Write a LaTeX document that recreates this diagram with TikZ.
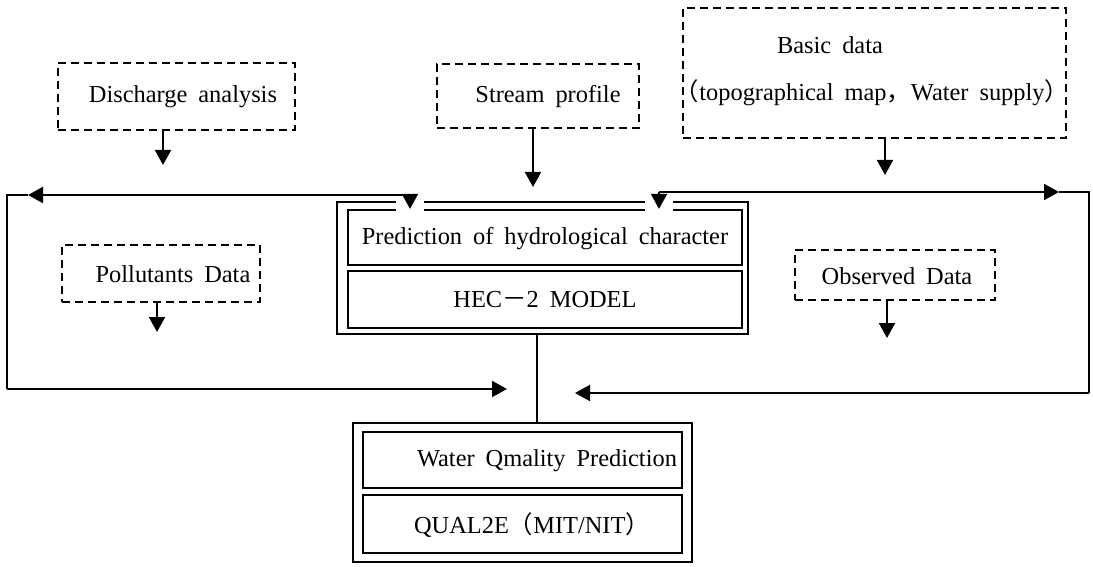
\documentclass[tikz,border=0pt]{standalone}
\usepackage{fontspec}
\setmainfont[WordSpace=1.8]{Liberation Serif}
\newfontfamily\cjk{Noto Sans CJK SC}
\usetikzlibrary{arrows.meta,fit}
\begin{document}
\begin{tikzpicture}[x=0.5pt,y=-0.5pt,
  arr/.style={-{Triangle[width=8pt,length=7.5pt]}, line width=1pt},
  conn/.style={line width=1pt},
  dbox/.style={draw, dash pattern=on 4pt off 2.5pt, line width=0.9pt, inner sep=0pt},
  obox/.style={draw, line width=1.4pt, inner sep=0pt},
  ibox/.style={draw, line width=1.1pt, inner sep=0pt},
  txt/.style={font=\fontsize{12.2}{14}\selectfont, inner sep=0pt}]
\useasboundingbox (0,0) rectangle (1093,567);
\fill[white] (0,0) rectangle (1093,567);

% dashed input boxes
\node[dbox, fit={(58,63) (295,130)}] (dis) {};
\node[txt] (distx) at (183,97) {Discharge analysis};
\node[dbox, fit={(437,64) (639,128)}] (str) {};
\node[txt] (strtx) at (548,97) {Stream profile};
\node[dbox, fit={(683,8) (1066,138)}] (bas) {};
\node[txt] (bastx1) at (830,45) {Basic data};
\node[txt] (bastx2) at (872,93) {{\cjk （}topographical map{\cjk ，}Water supply{\cjk ）}};
\node[dbox, fit={(62,245) (260,302)}] (pol) {};
\node[txt] (poltx) at (173,274) {Pollutants Data};
\node[dbox, fit={(795,250) (995,300)}] (obs) {};
\node[txt] (obstx) at (897,276) {Observed Data};

% central model box
\node[obox, fit={(337,202) (748,334)}] (cout) {};
\node[ibox, fit={(348,210) (742,265)}] (cin1) {};
\node[ibox, fit={(348,271) (742,328)}] (cin2) {};
\node[txt] (cin1tx) at (545,239) {Prediction of hydrological character};
\node[txt] (cin2tx) at (545,300) {HEC{\cjk －}2 MODEL};

% bottom model box
\node[obox, fit={(353,423) (692,562)}] (bout) {};
\node[ibox, fit={(363,432) (682,488)}] (bin1) {};
\node[ibox, fit={(363,495) (682,553)}] (bin2) {};
\node[txt] (bin1tx) at (547,461) {Water Qmality Prediction};
\node[txt] (bin2tx) at (532,525) {QUAL2E{\cjk （}MIT/NIT{\cjk ）}};

% free ends of the input arrows
\coordinate (disT) at (163,165);
\coordinate (strT) at (533,187);
\coordinate (basT) at (885,175);
\coordinate (polT) at (157,332);
\coordinate (obsT) at (887,338);
\draw[arr] (dis.south -| disT) -- (disT);
\draw[arr] (str.south -| strT) -- (strT);
\draw[arr] (bas.south -| basT) -- (basT);
\draw[arr] (pol.south -| polT) -- (polT);
\draw[arr] (obs.south -| obsT) -- (obsT);

% loop connectors
\coordinate (jl) at (410,195);
\coordinate (ltip) at (28,195);
\coordinate (cTL) at (7,195);
\coordinate (cBL) at (7,389);
\coordinate (btipL) at (507,389);
\coordinate (jr) at (659,192);
\coordinate (rtip) at (1059,192);
\coordinate (cTR) at (1089,192);
\coordinate (cBR) at (1089,393);
\coordinate (btipR) at (575,393);

\fill[white] (396,197) rectangle (424,214);
\fill[white] (645,197) rectangle (673,214);

\draw[arr] (jl) -- (jl |- cin1.north);
\draw[arr] (jl) -- (ltip);
\draw[conn] (ltip) -- (cTL) -- (cBL);
\draw[arr] (cBL) -- (btipL);

\draw[arr] (jr) -- (jr |- cin1.north);
\draw[arr] (jr) -- (rtip);
\draw[conn] (rtip) -- (cTR) -- (cBR);
\draw[arr] (cBR) -- (btipR);

\coordinate (vtop) at (537,334);
\draw[conn] (vtop) -- (vtop |- bout.north);
\end{tikzpicture}
\end{document}
